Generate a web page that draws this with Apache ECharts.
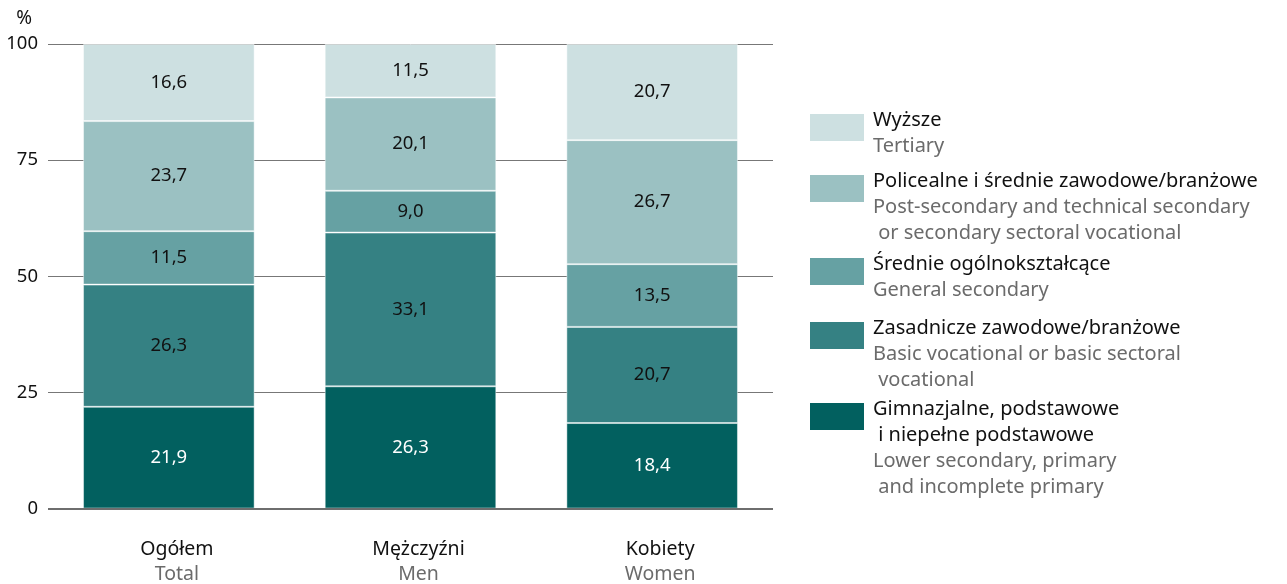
<!DOCTYPE html>
<html>
<head>
<meta charset="utf-8">
<script src="https://cdn.jsdelivr.net/npm/echarts@6/dist/echarts.min.js"></script>
<style>
  html, body { margin: 0; padding: 0; background: #fff; }
  #chart { width: 1287px; height: 584px; }
</style>
</head>
<body>
<div id="chart"></div>
<script>
  // kategorie (PL / EN)
  const categoriesPl = ['Ogółem', 'Mężczyźni', 'Kobiety'];
  const categoriesEn = ['Total', 'Men', 'Women'];

  // poziomy wykształcenia, od dołu słupka
  const levelsPl = [
    'Gimnazjalne, podstawowe\n i niepełne podstawowe',
    'Zasadnicze zawodowe/branżowe',
    'Średnie ogólnokształcące',
    'Policealne i średnie zawodowe/branżowe',
    'Wyższe'
  ];
  const levelsEn = [
    'Lower secondary, primary\n and incomplete primary',
    'Basic vocational or basic sectoral\n vocational',
    'General secondary',
    'Post-secondary and technical secondary\n or secondary sectoral vocational',
    'Tertiary'
  ];
  const colors = ['#02605f', '#358183', '#66a1a3', '#9bc1c2', '#cde0e1'];

  // wartości w % (Ogółem, Mężczyźni, Kobiety)
  const lowerPrimary = [21.9, 26.3, 18.4];
  const basicVocational = [26.3, 33.1, 20.7];
  const generalSecondary = [11.5, 9.0, 13.5];
  const postSecondary = [23.7, 20.1, 26.7];
  const tertiary = [16.6, 11.5, 20.7];
  const seriesValues = [lowerPrimary, basicVocational, generalSecondary, postSecondary, tertiary];

  const yTicks = [0, 25, 50, 75, 100];

  const FONT = '"Noto Sans", "Open Sans", sans-serif';

  const chart = echarts.init(document.getElementById('chart'));

  const series = seriesValues.map((vals, i) => ({
    name: levelsPl[i],
    type: 'bar',
    stack: 'total',
    barWidth: '71%',
    data: vals,
    itemStyle: {
      color: colors[i],
      borderColor: 'rgba(255,255,255,0.45)',
      borderWidth: 1
    },
    label: {
      show: true,
      position: 'inside',
      fontFamily: FONT,
      fontSize: 18.5,
      color: i === 0 ? '#ffffff' : '#111111',
      formatter: p => p.value.toFixed(1).replace('.', ',')
    }
  }));

  // legenda rysowana ręcznie (ikona wyrównana do pierwszej linii)
  const legendTops = [403, 322, 258, 175, 114];
  const legendGraphics = [];
  for (let i = levelsPl.length - 1; i >= 0; i--) {
    const top = legendTops[i];
    legendGraphics.push({
      type: 'rect',
      left: 810,
      top: top,
      shape: { width: 54, height: 27 },
      style: { fill: colors[i] }
    });
    legendGraphics.push({
      type: 'text',
      left: 873,
      top: top - 4,
      style: {
        text: '{pl|' + levelsPl[i].split('\n').join('}\n{pl|') + '}\n{en|' +
          levelsEn[i].split('\n').join('}\n{en|') + '}',
        rich: {
          pl: { fontFamily: FONT, fontSize: 20, lineHeight: 26, fill: '#111111' },
          en: { fontFamily: FONT, fontSize: 20, lineHeight: 26, fill: '#6b6b6b' }
        }
      }
    });
  }

  const option = {
    animation: false,
    backgroundColor: '#ffffff',
    grid: { left: 48, right: 514, top: 44, bottom: 75 },
    xAxis: {
      type: 'category',
      data: categoriesPl,
      axisLine: { show: false },
      axisTick: { show: false },
      axisLabel: {
        margin: 28,
        padding: [0, 0, 0, 16],
        formatter: (v, idx) => '{pl|' + v + '}\n{en|' + categoriesEn[idx] + '}',
        rich: {
          pl: { fontFamily: FONT, fontSize: 19.5, lineHeight: 25, color: '#111111' },
          en: { fontFamily: FONT, fontSize: 19.5, lineHeight: 25, color: '#6b6b6b' }
        }
      }
    },
    yAxis: {
      type: 'value',
      min: yTicks[0],
      max: yTicks[yTicks.length - 1],
      interval: 25,
      name: '%',
      nameLocation: 'end',
      nameGap: 16,
      nameTextStyle: { fontFamily: FONT, fontSize: 19, color: '#111111', align: 'right', padding: [0, 16, 0, 0] },
      axisLine: { show: false },
      axisTick: { show: false },
      axisLabel: { margin: 10, fontFamily: FONT, fontSize: 18.5, color: '#111111' },
      splitLine: { lineStyle: { color: '#777777', width: 1 } }
    },
    series: series.concat([{
      type: 'line',
      data: [],
      markLine: {
        silent: true,
        symbol: 'none',
        label: { show: false },
        lineStyle: { color: '#6e6e6e', width: 2, type: 'solid' },
        data: [{ yAxis: 0 }]
      }
    }]),
    graphic: legendGraphics
  };

  chart.setOption(option);
</script>
</body>
</html>
